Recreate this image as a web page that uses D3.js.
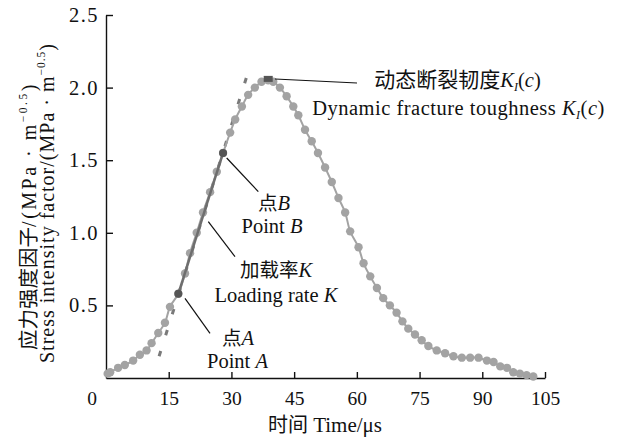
<!DOCTYPE html>
<html>
<head>
<meta charset="utf-8">
<script src="https://cdn.jsdelivr.net/npm/d3@7/dist/d3.min.js"></script>
<style>
  html, body { margin: 0; padding: 0; background: #fff; }
  svg text { font-family: "Liberation Serif", "Times New Roman", serif; fill: #111; }
  svg tspan.cjk { font-family: "Noto Sans CJK SC", sans-serif; }
</style>
</head>
<body>
<div id="chart"></div>
<script>
// time in µs, stress intensity factor in MPa·m^0.5
const TIMES = [0.4, 1.0, 2.9, 4.5, 6.5, 8.1, 9.7, 10.9, 12.5, 14.1, 15.3, 17.3, 18.9, 20.1, 21.7,
  23.2, 24.9, 26.5, 28.0, 29.7, 30.9, 32.5, 34.0, 35.6, 37.2, 38.8, 40.0, 41.6, 43.2, 44.8,
  46.0, 47.6, 49.2, 50.7, 52.4, 54.0, 55.6, 57.2, 58.4, 60.4, 61.6, 63.2, 64.8, 66.3, 67.9,
  69.5, 70.9, 72.3, 73.9, 75.5, 77.1, 79.1, 81.1, 83.1, 85.1, 87.1, 89.1, 91.1, 92.7, 94.3,
  95.9, 97.4, 99.0, 100.6, 102.2];
const VALUES = [0.03, 0.04, 0.07, 0.09, 0.12, 0.16, 0.19, 0.24, 0.31, 0.38, 0.49, 0.58, 0.72, 0.86, 1.00,
  1.14, 1.28, 1.42, 1.55, 1.69, 1.78, 1.87, 1.95, 2.00, 2.04, 2.05, 2.04, 2.00, 1.94, 1.87,
  1.81, 1.71, 1.63, 1.55, 1.45, 1.35, 1.24, 1.14, 1.01, 0.90, 0.79, 0.70, 0.62, 0.55, 0.50,
  0.45, 0.39, 0.34, 0.30, 0.26, 0.22, 0.19, 0.17, 0.15, 0.14, 0.14, 0.14, 0.12, 0.11, 0.08,
  0.07, 0.04, 0.03, 0.02, 0.01];

const POINT_A = [17.3, 0.58];
const POINT_B = [28.0, 1.55];
const PEAK = [38.8, 2.06];
const RATE_LINE = [[12.7, 0.15], [33.6, 2.07]]; // dashed extension of loading rate

const X_TICKS = [15, 30, 45, 60, 75, 90, 105];
const Y_TICKS = [0.5, 1.0, 1.5, 2.0, 2.5];

const W = 617, H = 438;
const x = d3.scaleLinear().domain([0, 105]).range([106, 545]);
const y = d3.scaleLinear().domain([0, 2.5]).range([378, 15]);

const svg = d3.select('#chart').append('svg')
  .attr('width', W).attr('height', H)
  .attr('viewBox', `0 0 ${W} ${H}`);

// axes
const xAxis = svg.append('g')
  .attr('transform', `translate(0,${y(0)})`)
  .call(d3.axisBottom(x).tickValues(X_TICKS).tickSizeInner(-6).tickSizeOuter(0).tickPadding(13.5));
const yAxis = svg.append('g')
  .attr('transform', `translate(${x(0)},0)`)
  .call(d3.axisLeft(y).tickValues(Y_TICKS).tickFormat(d3.format('.1f')).tickSizeInner(-7).tickSizeOuter(0).tickPadding(7));

[xAxis, yAxis].forEach(g => {
  g.attr('font-family', null);
  g.selectAll('path, line').attr('stroke', '#111').attr('stroke-width', 1.4);
  g.selectAll('text').attr('font-size', 19.5).attr('fill', '#111');
});
yAxis.selectAll('text').attr('font-size', 20.5).attr('letter-spacing', 1.5);

svg.append('text').attr('x', 92).attr('y', 405).attr('text-anchor', 'middle')
  .attr('font-size', 19.5).text('0');

// x title
const xt = svg.append('text').attr('x', 325).attr('y', 432).attr('text-anchor', 'middle').attr('font-size', 21);
xt.append('tspan').attr('class', 'cjk').attr('font-size', 20).text('时间');
xt.append('tspan').text(' Time/μs');

// y title, two rotated lines
function unitTail(t) {
  t.append('tspan').text('/(MPa · m');
  t.append('tspan').attr('font-size', 11.5).attr('dy', -9).text('−0.5');
  t.append('tspan').attr('dy', 9).text(')');
}
const yt1 = svg.append('text').attr('transform', 'translate(36,216) rotate(-90)')
  .attr('text-anchor', 'middle').attr('font-size', 20);
yt1.append('tspan').attr('class', 'cjk').attr('font-size', 20.5).text('应力强度因子');
yt1.append('tspan').attr('letter-spacing', 2.5).call(unitTail);
const yt2 = svg.append('text').attr('transform', 'translate(53.5,203) rotate(-90)')
  .attr('text-anchor', 'middle').attr('font-size', 20).attr('letter-spacing', 1);
yt2.append('tspan').text('Stress intensity factor');
unitTail(yt2);

// dashed loading rate extension
svg.append('path')
  .attr('d', d3.line().x(d => x(d[0])).y(d => y(d[1]))(RATE_LINE))
  .attr('fill', 'none').attr('stroke', '#7a7a7a').attr('stroke-width', 3)
  .attr('stroke-dasharray', '5.5,16.5');

// curve
const pts = TIMES.map((t, i) => [t, VALUES[i]]);
svg.append('path')
  .attr('d', d3.line().x(d => x(d[0])).y(d => y(d[1])).curve(d3.curveCatmullRom)(pts))
  .attr('fill', 'none').attr('stroke', '#a3a3a3').attr('stroke-width', 2);
svg.append('g').selectAll('circle')
  .data(pts)
  .join('circle')
  .attr('cx', d => x(d[0])).attr('cy', d => y(d[1])).attr('r', 4.2)
  .attr('fill', '#a3a3a3');

// loading rate segment A-B
svg.append('line')
  .attr('x1', x(POINT_A[0])).attr('y1', y(POINT_A[1]))
  .attr('x2', x(POINT_B[0])).attr('y2', y(POINT_B[1]))
  .attr('stroke', '#6e6e6e').attr('stroke-width', 2.5);
svg.selectAll('.pt')
  .data([POINT_A, POINT_B])
  .join('circle')
  .attr('class', 'pt')
  .attr('cx', d => x(d[0])).attr('cy', d => y(d[1])).attr('r', 4)
  .attr('fill', '#555');
svg.append('rect')
  .attr('x', x(PEAK[0]) - 4.5).attr('y', y(PEAK[1]) - 3).attr('width', 9).attr('height', 6)
  .attr('fill', '#555');

// leader lines
const LEADERS = [[275, 79, 357, 83], [226.7, 158, 258.3, 191.7], [208.3, 221.7, 235, 256.7], [185, 298.3, 210, 333.3]];
svg.append('g').selectAll('line')
  .data(LEADERS)
  .join('line')
  .attr('x1', d => d[0]).attr('y1', d => d[1]).attr('x2', d => d[2]).attr('y2', d => d[3])
  .attr('stroke', '#111').attr('stroke-width', 1.2);

// labels
function kic(t) {
  t.append('tspan').attr('font-style', 'italic').text('K');
  t.append('tspan').attr('font-style', 'italic').attr('font-size', 12).attr('dy', 4).text('I');
  t.append('tspan').attr('dy', -4).text('(');
  t.append('tspan').attr('font-style', 'italic').text('c');
  t.append('tspan').text(')');
}
function label(cx, by, cjk, italic, cjkSize) {
  const t = svg.append('text').attr('x', cx).attr('y', by).attr('text-anchor', 'middle').attr('font-size', 20.5);
  t.append('tspan').attr('class', 'cjk').attr('font-size', cjkSize || 19.5).text(cjk);
  if (italic === 'KIC') kic(t);
  else t.append('tspan').attr('font-style', 'italic').text(italic);
  return t;
}
function label2(cx, by, txt, italic) {
  const t = svg.append('text').attr('x', cx).attr('y', by).attr('text-anchor', 'middle').attr('font-size', 20.5);
  t.append('tspan').text(txt);
  if (italic === 'KIC') kic(t);
  else t.append('tspan').attr('font-style', 'italic').text(italic);
  return t;
}

label(457.5, 87, '动态断裂韧度', 'KIC', 21);
label2(458.5, 115, 'Dynamic fracture toughness ', 'KIC').attr('letter-spacing', 0.5);
label(274, 210, '点', 'B');
label2(272, 233, 'Point ', 'B');
label(276, 277, '加载率', 'K');
label2(276, 302, 'Loading rate ', 'K');
label(238, 345, '点', 'A');
label2(237.5, 368, 'Point ', 'A');
</script>
</body>
</html>
